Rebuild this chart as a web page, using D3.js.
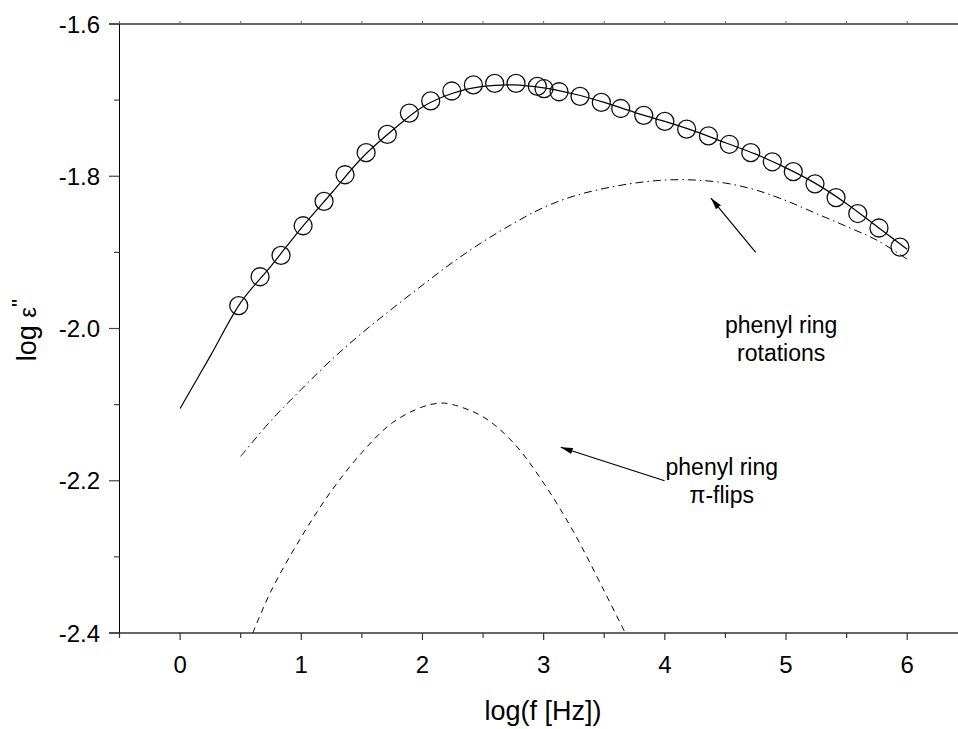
<!DOCTYPE html>
<html>
<head>
<meta charset="utf-8">
<script src="https://cdn.jsdelivr.net/npm/d3@7"></script>
<style>
  html, body { margin: 0; padding: 0; background: #fff; }
  svg text { font-family: "Liberation Sans", Arial, Helvetica, sans-serif; fill: #000; }
</style>
</head>
<body>
<svg id="chart" width="958" height="729"></svg>
<script>
// Measured loss spectrum: log frequency and log epsilon''
const measLogF = [0.484, 0.66, 0.833, 1.015, 1.188, 1.361, 1.535, 1.71, 1.892, 2.068, 2.242, 2.42, 2.596, 2.772,
  2.948, 3.003, 3.127, 3.30, 3.476, 3.636, 3.826, 4.0, 4.18, 4.36, 4.532, 4.709, 4.887, 5.06, 5.239, 5.413,
  5.592, 5.767, 5.94];
const measLogEps = [-1.970, -1.932, -1.904, -1.865, -1.833, -1.798, -1.769, -1.745, -1.717, -1.701, -1.688, -1.680, -1.678, -1.678,
  -1.682, -1.685, -1.689, -1.695, -1.703, -1.711, -1.720, -1.728, -1.738, -1.747, -1.758, -1.769, -1.781, -1.794, -1.810, -1.828,
  -1.849, -1.868, -1.893];

// Total fit curve
const fitLogF = [0, 0.25, 0.5, 0.75, 1.0, 1.25, 1.5, 1.75, 2.0, 2.25, 2.5, 2.75, 3.0, 3.25, 3.5, 3.75, 4.0, 4.25, 4.5, 4.75, 5.0, 5.25, 5.5, 5.75, 6.0];
const fitLogEps = [-2.105, -2.036, -1.966, -1.918, -1.868, -1.822, -1.776, -1.740, -1.709, -1.691, -1.682, -1.680, -1.684, -1.692,
  -1.703, -1.716, -1.728, -1.741, -1.756, -1.771, -1.789, -1.810, -1.836, -1.866, -1.896];

// Component: phenyl ring rotations (dash-dot)
const rotLogF = [0.5, 0.75, 1.0, 1.25, 1.5, 1.75, 2.0, 2.25, 2.5, 2.75, 3.0, 3.25, 3.5, 3.75, 4.0, 4.25, 4.5, 4.75, 5.0, 5.25, 5.5, 5.75, 6.0];
const rotLogEps = [-2.168, -2.121, -2.080, -2.041, -2.006, -1.974, -1.943, -1.913, -1.886, -1.862, -1.841, -1.826, -1.816, -1.809,
  -1.805, -1.805, -1.809, -1.818, -1.832, -1.849, -1.866, -1.884, -1.909];

// Component: phenyl ring pi-flips (dashed)
const flipLogF = [0.6, 0.75, 1.0, 1.25, 1.5, 1.75, 2.0, 2.15, 2.25, 2.5, 2.75, 3.0, 3.25, 3.5, 3.68];
const flipLogEps = [-2.400, -2.345, -2.274, -2.213, -2.163, -2.124, -2.103, -2.098, -2.100, -2.116, -2.150, -2.203, -2.268, -2.345, -2.402];

// Axis ticks
const xMajorTicks = [0, 1, 2, 3, 4, 5, 6];
const xMinorTicks = [-0.5, 0.5, 1.5, 2.5, 3.5, 4.5, 5.5];
const yMajorTicks = [-1.6, -1.8, -2.0, -2.2, -2.4];
const yMinorTicks = [-1.7, -1.9, -2.1, -2.3];

// Annotations (text anchor in data units, first-line baseline)
const annotations = [
  { lines: ["phenyl ring", "rotations"], x: 4.96, y: -2.006, tail: [4.75, -1.9], tip: [4.38, -1.8286] },
  { lines: ["phenyl ring", "\u03c0-flips"], x: 4.47, y: -2.192, tail: [3.998, -2.2], tip: [3.141, -2.156] }
];

const svg = d3.select("#chart");
const plotLeft = 119.5, plotTop = 24, plotBottom = 633;
const x = d3.scaleLinear().domain([-0.5, 6]).range([plotLeft, 180 + 121.2 * 6]);
const y = d3.scaleLinear().domain([-1.6, -2.4]).range([plotTop, plotBottom]);

const defs = svg.append("defs");
defs.append("clipPath").attr("id", "plot")
  .append("rect").attr("x", plotLeft).attr("y", plotTop).attr("width", 958 - plotLeft).attr("height", plotBottom - plotTop);

// Frame lines (top and bottom span to the right edge)
svg.append("line").attr("x1", 109).attr("x2", 958).attr("y1", plotTop).attr("y2", plotTop)
  .attr("stroke", "#666").attr("stroke-width", 2);
svg.append("line").attr("x1", 109).attr("x2", 958).attr("y1", plotBottom).attr("y2", plotBottom)
  .attr("stroke", "#666").attr("stroke-width", 2);
svg.append("line").attr("x1", plotLeft).attr("x2", plotLeft).attr("y1", plotTop).attr("y2", plotBottom)
  .attr("stroke", "#000").attr("stroke-width", 1);

// Bottom axis
const xAxis = svg.append("g");
xMajorTicks.forEach(v => {
  xAxis.append("line").attr("x1", x(v)).attr("x2", x(v)).attr("y1", plotBottom).attr("y2", plotBottom + 7)
    .attr("stroke", "#333").attr("stroke-width", 1.2);
  xAxis.append("line").attr("x1", x(v)).attr("x2", x(v)).attr("y1", plotTop).attr("y2", plotTop - 3)
    .attr("stroke", "#666").attr("stroke-width", 1);
  xAxis.append("text").attr("x", x(v)).attr("y", 673).attr("text-anchor", "middle")
    .attr("font-size", 24).text(d3.format("d")(v));
});
xMinorTicks.forEach(v => {
  xAxis.append("line").attr("x1", x(v)).attr("x2", x(v)).attr("y1", plotBottom).attr("y2", plotBottom + 5)
    .attr("stroke", "#333").attr("stroke-width", 1.2);
  xAxis.append("line").attr("x1", x(v)).attr("x2", x(v)).attr("y1", plotTop).attr("y2", plotTop - 3)
    .attr("stroke", "#666").attr("stroke-width", 1);
});

// Left axis
const yAxis = svg.append("g");
yMajorTicks.forEach(v => {
  yAxis.append("line").attr("x1", 109).attr("x2", plotLeft).attr("y1", y(v)).attr("y2", y(v))
    .attr("stroke", "#444").attr("stroke-width", 1.2);
  yAxis.append("text").attr("x", 100).attr("y", y(v) + 8.5).attr("text-anchor", "end")
    .attr("font-size", 24).text(d3.format(".1f")(v).replace("\u2212", "-"));
});
yMinorTicks.forEach(v => {
  yAxis.append("line").attr("x1", 114).attr("x2", plotLeft).attr("y1", y(v)).attr("y2", y(v))
    .attr("stroke", "#444").attr("stroke-width", 1.2);
});

// Axis titles
svg.append("text").attr("x", 543).attr("y", 720).attr("text-anchor", "middle")
  .attr("font-size", 27).text("log(f [Hz])");
const yt = svg.append("text").attr("transform", "translate(36,330) rotate(-90)")
  .attr("text-anchor", "middle").attr("font-size", 27);
yt.append("tspan").text("log ");
yt.append("tspan").attr("font-size", 24).text("\u03b5");
yt.append("tspan").attr("dy", -9).attr("font-size", 22).text("''");

// Curves
const plot = svg.append("g").attr("clip-path", "url(#plot)");
const line = d3.line().x(d => x(d[0])).y(d => y(d[1])).curve(d3.curveCatmullRom.alpha(0.5));

plot.append("path").datum(d3.zip(flipLogF, flipLogEps)).attr("d", line)
  .attr("fill", "none").attr("stroke", "#000").attr("stroke-width", 1).attr("stroke-dasharray", "6,5");
plot.append("path").datum(d3.zip(rotLogF, rotLogEps)).attr("d", line)
  .attr("fill", "none").attr("stroke", "#000").attr("stroke-width", 1).attr("stroke-dasharray", "8,4,1.5,4");
plot.append("path").datum(d3.zip(fitLogF, fitLogEps)).attr("d", line)
  .attr("fill", "none").attr("stroke", "#000").attr("stroke-width", 1.2);

// Measured points
plot.selectAll("circle.meas").data(d3.zip(measLogF, measLogEps)).join("circle")
  .attr("class", "meas")
  .attr("cx", d => x(d[0])).attr("cy", d => y(d[1])).attr("r", 9)
  .attr("fill", "none").attr("stroke", "#111").attr("stroke-width", 1.3);

// Annotation arrows and labels
defs.append("marker").attr("id", "head")
  .attr("viewBox", "0 0 12 8").attr("refX", 12).attr("refY", 4)
  .attr("markerWidth", 12).attr("markerHeight", 8).attr("markerUnits", "userSpaceOnUse")
  .attr("orient", "auto")
  .append("path").attr("d", "M0,0.8 L12,4 L0,7.2 Z").attr("fill", "#000");

annotations.forEach(a => {
  svg.append("line")
    .attr("x1", x(a.tail[0])).attr("y1", y(a.tail[1]))
    .attr("x2", x(a.tip[0])).attr("y2", y(a.tip[1]))
    .attr("stroke", "#000").attr("stroke-width", 1.2).attr("marker-end", "url(#head)");
  a.lines.forEach((t, i) => {
    svg.append("text").attr("x", x(a.x)).attr("y", y(a.y) + i * 28)
      .attr("text-anchor", "middle").attr("font-size", 23).text(t);
  });
});
</script>
</body>
</html>
